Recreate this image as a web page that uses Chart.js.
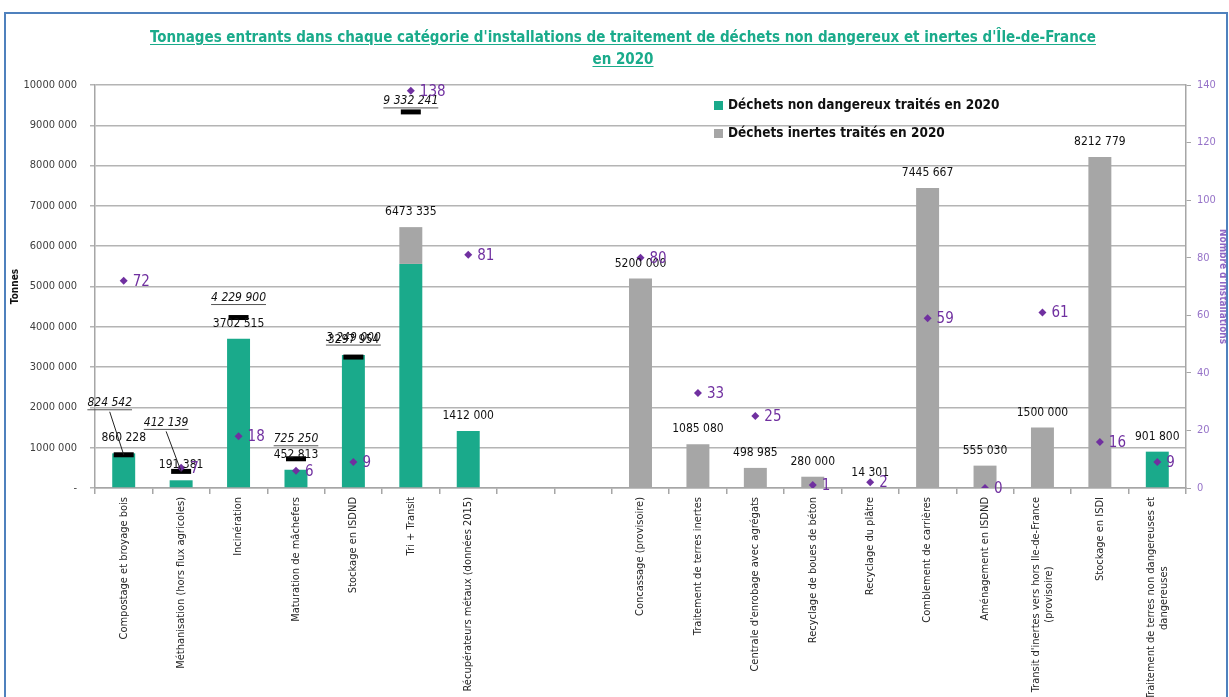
<!DOCTYPE html>
<html lang="fr">
<head>
<meta charset="utf-8">
<script src="https://cdn.jsdelivr.net/npm/chart.js@4.4.1/dist/chart.umd.min.js"></script>
<style>
  html, body { margin: 0; padding: 0; background: #fff; overflow: hidden; }
  #wrap { position: relative; width: 1229px; height: 697px; }
  #cadre { position: absolute; left: 4px; top: 12px; width: 1220px; height: 700px; border: 2px solid #4f81bd; border-bottom: none; }
  #titre { position: absolute; top: 26px; left: 0; width: 1246px; text-align: center;
    font-family: 'Liberation Sans Narrow', 'DejaVu Sans Condensed', sans-serif; font-weight: bold;
    font-size: 15px; line-height: 22px; color: #1aab8b; text-decoration: underline; text-underline-offset: 2px; }
  canvas { position: absolute; left: 0; top: 0; }
</style>
</head>
<body>
<div id="wrap">
  <canvas id="graph" width="1229" height="697"></canvas>
  <div id="cadre"></div>
  <div id="titre">Tonnages entrants dans chaque catégorie d'installations de traitement de déchets non dangereux et inertes d'Île-de-France<br>en 2020</div>
</div>
<script>
const FONT = "'Liberation Sans Narrow', 'DejaVu Sans Condensed', sans-serif";

// categories (2 colonnes vides entre les deux groupes)
const categories = [
  'Compostage et broyage bois',
  'Méthanisation (hors flux agricoles)',
  'Incinération',
  'Maturation de mâchefers',
  'Stockage en ISDND',
  'Tri + Transit',
  'Récupérateurs métaux (données 2015)',
  '', '',
  'Concassage (provisoire)',
  'Traitement de terres inertes',
  "Centrale d'enrobage avec agrégats",
  'Recyclage de boues de béton',
  'Recyclage du plâtre',
  'Comblement de carrières',
  'Aménagement en ISDND',
  ["Transit d'inertes vers hors Ile-de-France", '(provisoire)'],
  'Stockage en ISDI',
  ['Traitement de terres non dangereuses et', 'dangereuses']
];

const nonDangereux = [860228, 191381, 3702515, 452813, 3297954, 5560000, 1412000, null, null,
  null, null, null, null, null, null, null, null, null, 901800];
const inertes = [null, null, null, null, null, 913335, null, null, null,
  5200000, 1085080, 498985, 280000, 14301, 7445667, 555030, 1500000, 8212779, null];
const capacites = [824542, 412139, 4229900, 725250, 3249000, 9332241, null, null, null,
  null, null, null, null, null, null, null, null, null, null];
const installations = [72, 7, 18, 6, 9, 138, 81, null, null, 80, 33, 25, 1, 2, 59, 0, 61, 16, 9];

const legendLabels = ['Déchets non dangereux traités en 2020', 'Déchets inertes traités en 2020'];

const VERT = '#1aaa8b';
const GRIS = '#a6a6a6';
const VIOLET = '#7030a0';

// "10000 000" style
const fmtCourt = v => {
  const k = Math.floor(v / 1000), r = String(v % 1000);
  return k ? k + ' ' + r.padStart(3, '0') : r;
};
const fmtLong = v => String(v).replace(/\B(?=(\d{3})+(?!\d))/g, ' ');

// decalage des etiquettes de capacite (px)
const capOffsets = [[-14, -52, true], [-15, -49, true], [0, -20], [0, -20], [0, -19], [0, -11]];

const etiquettes = {
  id: 'etiquettes',
  afterDatasetsDraw(chart) {
    const { ctx, scales: { x, y, y1 } } = chart;
    ctx.save();
    ctx.textAlign = 'center';
    ctx.textBaseline = 'middle';

    // totaux au-dessus des barres
    ctx.font = '12px ' + FONT;
    ctx.fillStyle = '#111';
    categories.forEach((c, i) => {
      const tot = (nonDangereux[i] || 0) + (inertes[i] || 0);
      if (!tot) return;
      ctx.fillText(fmtCourt(tot), x.getPixelForValue(i), y.getPixelForValue(tot) - 15);
    });

    // capacites
    ctx.font = 'italic 12px ' + FONT;
    capacites.forEach((v, i) => {
      if (v == null) return;
      const mx = x.getPixelForValue(i), my = y.getPixelForValue(v);
      const o = capOffsets[i] || [0, -20];
      const lx = mx + o[0], ly = my + o[1];
      const t = fmtLong(v);
      const w = ctx.measureText(t).width;
      ctx.fillStyle = '#111';
      ctx.fillText(t, lx, ly);
      ctx.strokeStyle = '#555';
      ctx.lineWidth = 1;
      ctx.beginPath();
      ctx.moveTo(lx - w / 2, ly + 7);
      ctx.lineTo(lx + w / 2, ly + 7);
      ctx.stroke();
      if (o[2]) {
        ctx.strokeStyle = '#222';
        ctx.beginPath();
        ctx.moveTo(lx, ly + 9);
        ctx.lineTo(mx, my);
        ctx.stroke();
      }
    });

    // nombre d'installations
    ctx.font = '15px ' + FONT;
    ctx.fillStyle = VIOLET;
    ctx.textAlign = 'left';
    installations.forEach((v, i) => {
      if (v == null) return;
      ctx.fillText(String(v), x.getPixelForValue(i) + 9, y1.getPixelForValue(v) + 1);
    });
    ctx.restore();
  },
  afterDraw(chart) {
    const { ctx, scales: { x }, chartArea } = chart;
    ctx.save();
    // etiquettes de l'axe x, tournees
    ctx.font = '11px ' + FONT;
    ctx.fillStyle = '#262626';
    categories.forEach((lab, i) => {
      const lines = [].concat(lab);
      if (!lines[0]) return;
      const w = Math.max(...lines.map(l => ctx.measureText(l).width));
      ctx.save();
      ctx.translate(x.getPixelForValue(i), chartArea.bottom + 9 + w / 2);
      ctx.rotate(-Math.PI / 2);
      ctx.textAlign = 'center';
      ctx.textBaseline = 'middle';
      lines.forEach((l, k) => ctx.fillText(l, 0, (k - (lines.length - 1) / 2) * 13));
      ctx.restore();
    });

    // legende
    ctx.font = 'bold 13.5px ' + FONT;
    ctx.textAlign = 'left';
    ctx.textBaseline = 'middle';
    [VERT, GRIS].forEach((col, k) => {
      const ly = 105 + k * 28;
      ctx.fillStyle = col;
      ctx.fillRect(714, ly - 4, 9, 9);
      ctx.fillStyle = '#111';
      ctx.fillText(legendLabels[k], 728, ly);
    });
    ctx.restore();
  }
};

new Chart(document.getElementById('graph'), {
  type: 'bar',
  data: {
    labels: categories,
    datasets: [{
      label: legendLabels[0],
      data: nonDangereux,
      backgroundColor: VERT,
      stack: 's',
      order: 2
    }, {
      label: legendLabels[1],
      data: inertes,
      backgroundColor: GRIS,
      stack: 's',
      order: 2
    }, {
      type: 'line',
      label: 'Capacités',
      data: capacites,
      showLine: false,
      pointStyle: 'line',
      pointRadius: 10,
      pointBorderWidth: 5,
      borderColor: '#000',
      stack: 'cap',
      yAxisID: 'y',
      order: 1
    }, {
      type: 'line',
      label: "Nombre d'installations",
      data: installations,
      showLine: false,
      pointStyle: 'rectRot',
      pointRadius: 4,
      backgroundColor: VIOLET,
      borderColor: VIOLET,
      borderWidth: 0,
      yAxisID: 'y1',
      order: 0
    }]
  },
  options: {
    responsive: false,
    animation: false,
    layout: { padding: { top: 85, left: 0, right: 0, bottom: 0 } },
    barPercentage: 0.4,
    categoryPercentage: 1,
    plugins: {
      legend: { display: false },
      tooltip: { enabled: false }
    },
    scales: {
      x: {
        stacked: true,
        ticks: { display: false },
        grid: { offset: true, drawOnChartArea: false, tickLength: 6, color: '#a6a6a6', lineWidth: 1.5 },
        border: { color: '#a6a6a6', width: 1.5 },
        afterFit: s => { s.height = 209; }
      },
      y: {
        stacked: true,
        min: 0,
        max: 10000000,
        ticks: {
          stepSize: 1000000,
          padding: 13,
          color: '#404040',
          font: { family: FONT, size: 11 },
          callback: v => v === 0 ? '-' : fmtCourt(v)
        },
        grid: { color: '#b4b4b4', lineWidth: 1.5, tickLength: 5 },
        border: { color: '#a6a6a6', width: 1.5 },
        title: { display: true, text: 'Tonnes', color: '#111', padding: { top: 9, bottom: 0 },
          font: { family: FONT, size: 10, weight: 'bold' } },
        afterFit: s => { s.width = 95; }
      },
      y1: {
        position: 'right',
        min: 0,
        max: 140,
        ticks: { stepSize: 20, padding: 6, color: '#9673c8', font: { family: FONT, size: 11 } },
        grid: { drawOnChartArea: false, color: '#a6a6a6', tickLength: 5 },
        border: { color: '#a6a6a6', width: 1.5 },
        title: { display: true, text: "Nombre d'installations", color: '#8f66c4', padding: { top: 0, bottom: 0 },
          font: { family: FONT, size: 10, weight: 'bold' } },
        afterFit: s => { s.width = 43; }
      }
    }
  },
  plugins: [etiquettes]
});
</script>
</body>
</html>
